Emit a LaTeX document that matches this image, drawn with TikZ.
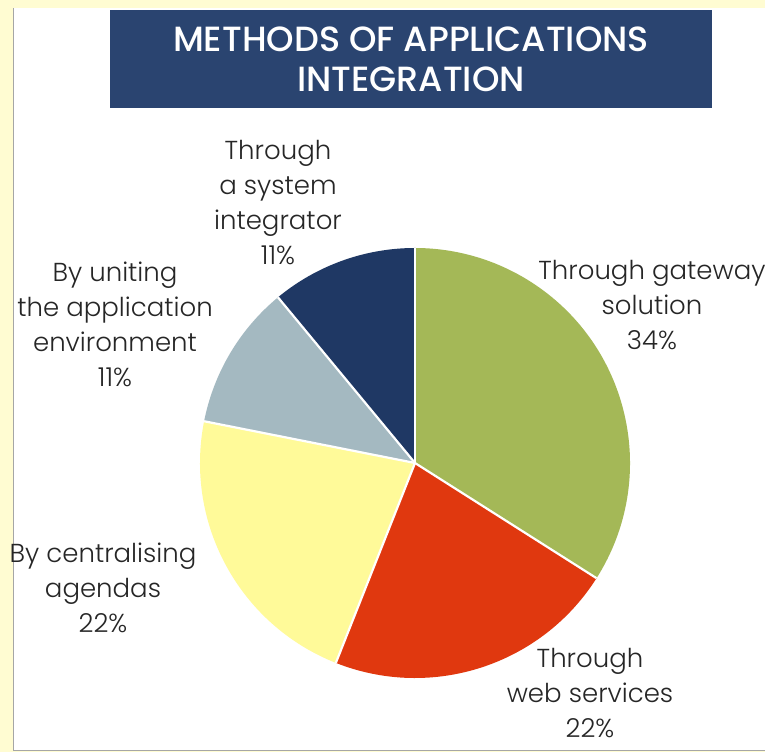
\documentclass[tikz,border=0pt]{standalone}
\usepackage{fontspec}
\setmainfont{Poppins}[UprightFont={* Light}]
\newfontfamily\titlefont{Poppins}[UprightFont={* Medium}]
\begin{document}
\begin{tikzpicture}[x=1pt,y=1pt,
  lbl/.style={align=center,font=\fontsize{26}{35}\selectfont,text=black!85,inner sep=0pt},
  sep/.style={draw=white,line width=2.2pt,line join=round}]
\definecolor{bgyellow}{HTML}{FFFCD2}
\definecolor{navytitle}{HTML}{2A4470}
\definecolor{cgreen}{HTML}{A4B857}
\definecolor{cred}{HTML}{E0380F}
\definecolor{cyellow}{HTML}{FFFA99}
\definecolor{cgrey}{HTML}{A4B9C1}
\definecolor{cnavy}{HTML}{1F3864}
\useasboundingbox (0,0) rectangle (765,752);
\fill[bgyellow] (0,0) rectangle (765,752);
\fill[white] (13,2) rectangle (765,744);
\draw[black!35,line width=1pt] (13,744) -- (13,2) -- (765,2);
% title
\fill[navytitle] (110,644) rectangle (712,742);
\node[text=white,align=center,font=\titlefont\fontsize{35}{40}\selectfont] (title) at (411,693) {METHODS OF APPLICATIONS\\INTEGRATION};
% pie
\coordinate (c) at (415,289);
\def\R{215}
\fill[cgreen] (c) -- ++(-32.4:\R) arc[start angle=-32.4,end angle=90,radius=\R] -- cycle;
\fill[cred] (c) -- ++(-111.6:\R) arc[start angle=-111.6,end angle=-32.4,radius=\R] -- cycle;
\fill[cyellow] (c) -- ++(168.8:\R) arc[start angle=168.8,end angle=248.4,radius=\R] -- cycle;
\fill[cgrey] (c) -- ++(129.6:\R) arc[start angle=129.6,end angle=168.8,radius=\R] -- cycle;
\fill[cnavy] (c) -- ++(90:\R) arc[start angle=90,end angle=129.6,radius=\R] -- cycle;
\foreach \a in {90,-32.4,-111.6,168.8,129.6} \draw[sep] (c) -- ++(\a:\R);
% labels
\node[lbl] (l1) at (278,549) {Through\\a system\\integrator\\11\%};
\node[lbl] (l2) at (115,428) {By uniting\\the application\\environment\\11\%};
\node[lbl] (l3) at (652,447) {Through gateway\\solution\\34\%};
\node[lbl] (l4) at (103,164) {By centralising\\agendas\\22\%};
\node[lbl] (l5) at (590,59) {Through\\web services\\22\%};
\end{tikzpicture}
\end{document}
